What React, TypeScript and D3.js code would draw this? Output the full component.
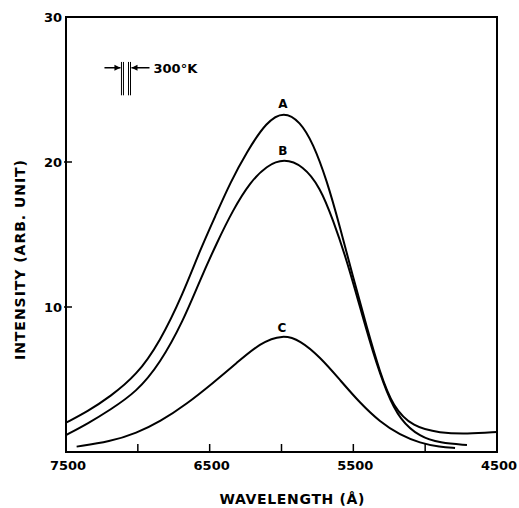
import React, { useRef, useEffect } from "react";
import * as d3 from "d3";

// curve readings, [wavelength in Å, intensity]
const curveA: [number, number][] = [
  [7500, 2.02], [7350, 2.8], [7194, 3.81], [7008, 5.3], [6846, 7.6], [6686, 10.9],
  [6567, 13.93], [6451, 16.48], [6358, 18.55], [6242, 20.7], [6103, 22.8],
  [5983, 23.5], [5871, 22.8], [5781, 21.31], [5685, 18.76], [5593, 15.52],
  [5502, 12.07], [5407, 8.62], [5314, 5.45], [5224, 3.1], [5085, 1.72],
  [4897, 1.31], [4709, 1.24], [4500, 1.38],
];
const curveB: [number, number][] = [
  [7500, 1.17], [7350, 1.95], [7194, 2.9], [7008, 4.15], [6846, 6.1], [6686, 9.0],
  [6567, 11.86], [6451, 14.41], [6338, 16.69], [6219, 18.6], [6103, 19.75],
  [5983, 20.25], [5850, 19.75], [5732, 18.28], [5641, 16.0], [5546, 13.24],
  [5454, 10.0], [5363, 6.83], [5268, 4.07], [5175, 2.21], [5036, 1.03],
  [4897, 0.62], [4709, 0.48],
];
const curveC: [number, number][] = [
  [7426, 0.37], [7194, 0.71], [7008, 1.31], [6846, 2.09], [6660, 3.31],
  [6477, 4.76], [6312, 6.14], [6150, 7.52], [5990, 8.1], [5871, 7.7],
  [5732, 6.55], [5593, 4.97], [5454, 3.38], [5314, 2.07], [5175, 1.17],
  [5036, 0.62], [4897, 0.34], [4792, 0.28],
];
const seriesNames = ["A", "B", "C"];
const seriesData = [curveA, curveB, curveC];

const xTicks = [7500, 7000, 6500, 6000, 5500, 5000, 4500];
const xTickLabels = ["7500", "", "6500", "", "5500", "", "4500"];
const yTicks = [30, 20, 10];
const yTickLabels = ["30", "20", "10"];

// resolution bar (slit width) near top left
const slitWavelengths = [7107, 7058];
const slitRange = [24.6, 26.9];
const slitArrowLevel = 26.5;
const slitLabel = "300°K";

const width = 519;
const height = 508;
const margin = { top: 17, right: 22, bottom: 56, left: 66 };
const font = "'DejaVu Sans', sans-serif";

function SpectrumChart() {
  const svgRef = useRef<SVGSVGElement>(null);

  useEffect(() => {
    const svg = d3.select(svgRef.current);
    svg.selectAll("*").remove();

    const x = d3
      .scaleLinear()
      .domain([7500, 4500])
      .range([margin.left, width - margin.right]);
    const y = d3
      .scaleLinear()
      .domain([0, 30])
      .range([height - margin.bottom, margin.top]);

    // frame
    svg
      .append("rect")
      .attr("x", x(7500))
      .attr("y", y(30))
      .attr("width", x(4500) - x(7500))
      .attr("height", y(0) - y(30))
      .attr("fill", "none")
      .attr("stroke", "#000")
      .attr("stroke-width", 2);

    // bottom ticks, inside
    svg
      .selectAll(".xtick")
      .data(xTicks.slice(1, -1))
      .join("line")
      .attr("class", "xtick")
      .attr("x1", (d) => x(d))
      .attr("x2", (d) => x(d))
      .attr("y1", y(0))
      .attr("y2", y(0) - 8)
      .attr("stroke", "#000")
      .attr("stroke-width", 1.5);

    svg
      .selectAll(".xlabel")
      .data(xTicks)
      .join("text")
      .attr("class", "xlabel")
      .attr("x", (d) => x(d) + 2)
      .attr("y", y(0) + 18)
      .attr("text-anchor", "middle")
      .attr("font-family", font)
      .attr("font-weight", "bold")
      .attr("font-size", 13)
      .text((d, i) => xTickLabels[i]);

    // left ticks
    svg
      .selectAll(".ytick")
      .data(yTicks.slice(1))
      .join("line")
      .attr("class", "ytick")
      .attr("x1", x(7500) - 2)
      .attr("x2", x(7500) + 6)
      .attr("y1", (d) => y(d))
      .attr("y2", (d) => y(d))
      .attr("stroke", "#000")
      .attr("stroke-width", 1.5);

    svg
      .selectAll(".ylabel")
      .data(yTicks)
      .join("text")
      .attr("class", "ylabel")
      .attr("x", x(7500) - 4)
      .attr("y", (d) => y(d) + 5)
      .attr("text-anchor", "end")
      .attr("font-family", font)
      .attr("font-weight", "bold")
      .attr("font-size", 13)
      .text((d, i) => yTickLabels[i]);

    // axis titles
    svg
      .append("text")
      .attr("x", 292)
      .attr("y", 504)
      .attr("text-anchor", "middle")
      .attr("font-family", font)
      .attr("font-weight", "bold")
      .attr("font-size", 14)
      .attr("textLength", 145)
      .text("WAVELENGTH (Å)");

    svg
      .append("text")
      .attr("transform", "translate(25,260) rotate(-90)")
      .attr("text-anchor", "middle")
      .attr("font-family", font)
      .attr("font-weight", "bold")
      .attr("font-size", 14)
      .attr("textLength", 200)
      .text("INTENSITY (ARB. UNIT)");

    // curves, smoothed through the readings
    const line = d3
      .line<[number, number]>()
      .x((d) => x(d[0]))
      .y((d) => y(d[1]))
      .curve(d3.curveBasis);

    svg
      .selectAll(".curve")
      .data(seriesData)
      .join("path")
      .attr("class", "curve")
      .attr("d", (d) => line(d))
      .attr("fill", "none")
      .attr("stroke", "#000")
      .attr("stroke-width", 2);

    // letter above each peak
    svg
      .selectAll(".peak")
      .data(seriesData)
      .join("text")
      .attr("class", "peak")
      .attr("x", (d) => {
        const top = d3.greatest(d, (p) => p[1])!;
        return x(top[0]) - 1;
      })
      .attr("y", (d) => y(d3.max(d, (p) => p[1])!) - 3)
      .attr("text-anchor", "middle")
      .attr("font-family", font)
      .attr("font-weight", "bold")
      .attr("font-size", 12)
      .text((d, i) => seriesNames[i]);

    // slit width marker
    const g = svg.append("g");
    slitWavelengths.forEach((w) => {
      [-1, 1].forEach((o) => {
        g.append("line")
          .attr("x1", x(w) + o)
          .attr("x2", x(w) + o)
          .attr("y1", y(slitRange[1]))
          .attr("y2", y(slitRange[0]))
          .attr("stroke", "#000")
          .attr("stroke-width", 1);
      });
    });
    const ay = y(slitArrowLevel);
    const lx = x(slitWavelengths[0]) - 2;
    const rx = x(slitWavelengths[1]) + 2;
    g.append("line")
      .attr("x1", lx - 16).attr("x2", lx)
      .attr("y1", ay).attr("y2", ay)
      .attr("stroke", "#000").attr("stroke-width", 1.5);
    g.append("path")
      .attr("d", `M${lx},${ay} l-6,-3 l0,6 z`)
      .attr("fill", "#000");
    g.append("line")
      .attr("x1", rx).attr("x2", rx + 18)
      .attr("y1", ay).attr("y2", ay)
      .attr("stroke", "#000").attr("stroke-width", 1.5);
    g.append("path")
      .attr("d", `M${rx},${ay} l6,-3 l0,6 z`)
      .attr("fill", "#000");
    g.append("text")
      .attr("x", rx + 22)
      .attr("y", ay + 5)
      .attr("font-family", font)
      .attr("font-weight", "bold")
      .attr("font-size", 13)
      .text(slitLabel);
  }, []);

  return (
    <svg
      ref={svgRef}
      width={width}
      height={height}
      style={{ position: "absolute", left: 0, top: 0, background: "#fff" }}
    ></svg>
  );
}

export default function App() {
  return <SpectrumChart />;
}
